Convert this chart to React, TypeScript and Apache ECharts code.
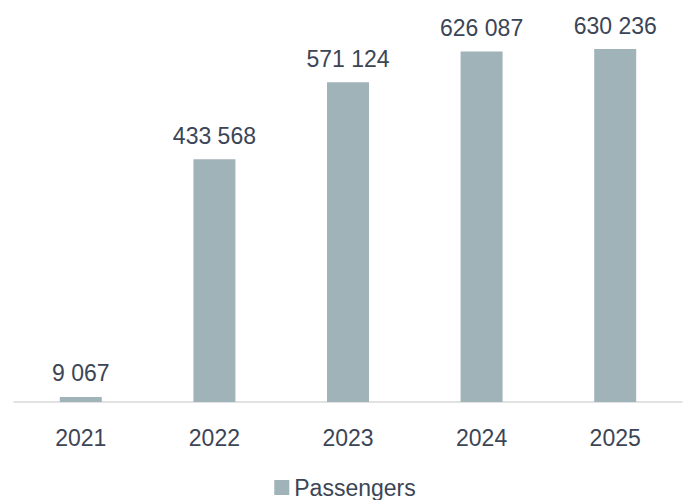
import React, { useEffect, useRef } from "react";
import * as echarts from "echarts";

const categories = ["2021", "2022", "2023", "2024", "2025"];
const passengers = [9067, 433568, 571124, 626087, 630236];
const seriesName = "Passengers";

const fmt = (v: number) => String(v).replace(/\B(?=(\d{3})+(?!\d))/g, " ");

export default function App() {
  const ref = useRef<HTMLDivElement>(null);
  useEffect(() => {
    document.body.style.margin = "0";
    const chart = echarts.init(ref.current!, undefined, { renderer: "svg" });
    const textColor = "#3b4556";
    chart.setOption({
      animation: false,
      textStyle: { fontFamily: "Liberation Sans, Arial, sans-serif" },
      grid: { left: 14, right: 8, top: 10, bottom: 98, containLabel: false },
      legend: {
        top: 471,
        left: "center",
        itemWidth: 15,
        itemHeight: 15,
        itemGap: 10,
        icon: "rect",
        textStyle: { fontSize: 23, color: textColor },
        data: [seriesName],
      },
      xAxis: {
        type: "category",
        data: categories,
        axisLine: { lineStyle: { color: "#d9d9d9", width: 1.5 } },
        axisTick: { show: false },
        axisLabel: { fontSize: 23, color: textColor, margin: 24 },
      },
      yAxis: {
        type: "value",
        min: 0,
        max: 700000,
        show: false,
        splitLine: { show: false },
      },
      series: [
        {
          name: seriesName,
          type: "bar",
          data: passengers,
          barWidth: 42,
          itemStyle: { color: "#a0b3b9" },
          label: {
            show: true,
            position: "top",
            distance: 12,
            fontSize: 23,
            color: textColor,
            formatter: (p: any) => fmt(p.value),
          },
        },
      ],
    });
    return () => chart.dispose();
  }, []);
  return <div ref={ref} style={{ position: "absolute", left: 0, top: 0, width: 690, height: 500 }} />;
}
